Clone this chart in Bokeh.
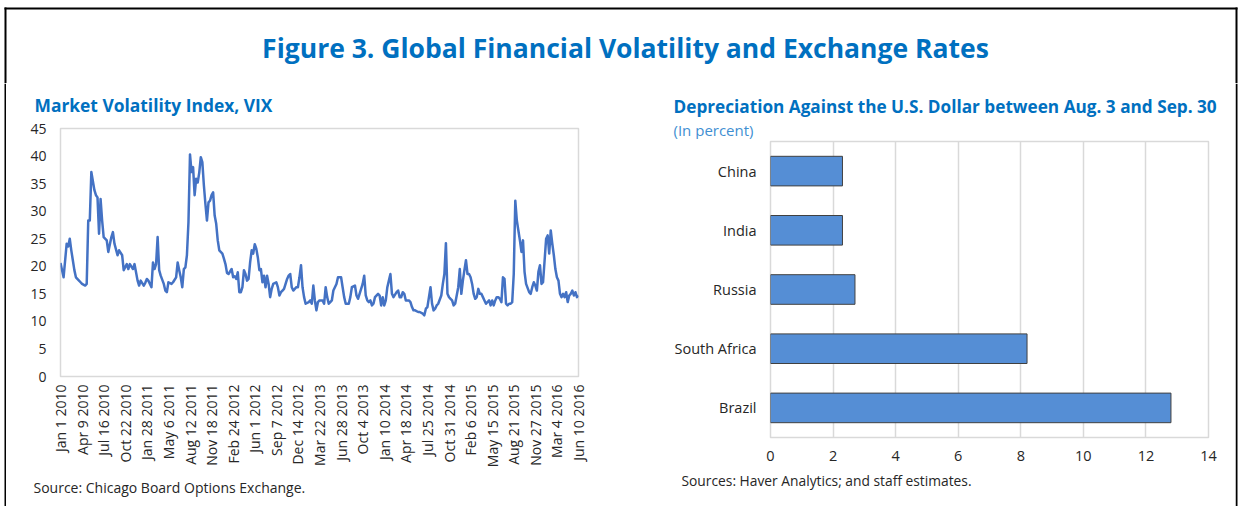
import math
import pandas as pd
from bokeh.plotting import figure
from bokeh.models import Range1d, FactorRange, FixedTicker
from bokeh.layouts import column, row
from bokeh.embed import file_html
from bokeh.resources import INLINE
from bokeh.core.properties import value

# ---------------- data ----------------
main_title = "Figure 3. Global Financial Volatility and Exchange Rates"
vix_title = "Market Volatility Index, VIX"
vix_source = "Source: Chicago Board Options Exchange."

# weeks since Jan 1 2010 (weekly observations) and VIX level
vix_weeks = [0, 2, 4, 5, 6, 7, 8, 9, 10, 12, 13, 14, 16, 17, 18, 19, 20, 22, 23, 24,
             25, 26, 27, 28, 30, 31, 33, 34, 35, 37, 38, 40, 41, 43, 44, 45, 47, 48, 50, 51,
             52, 54, 55, 56, 57, 59, 60, 61, 62, 63, 64, 65, 67, 68, 69, 70, 72, 73, 75, 76,
             77, 78, 79, 80, 81, 82, 83, 84, 85, 86, 87, 88, 89, 90, 91, 92, 93, 94, 95, 96,
             97, 98, 99, 100, 101, 102, 103, 105, 106, 107, 108, 109, 111, 112, 113, 114, 115, 116, 117, 118,
             119, 120, 121, 122, 123, 124, 125, 126, 127, 128, 129, 130, 131, 132, 133, 134, 135, 136, 137, 138,
             140, 141, 142, 143, 144, 145, 147, 148, 149, 150, 151, 153, 154, 155, 156, 157, 158, 159, 161, 162,
             163, 164, 165, 166, 167, 168, 170, 171, 172, 173, 174, 175, 176, 177, 179, 180, 182, 183, 184, 185,
             187, 188, 189, 191, 192, 193, 194, 196, 197, 198, 199, 200, 201, 202, 203, 204, 206, 207, 208, 209,
             210, 211, 212, 213, 214, 215, 216, 218, 219, 220, 221, 222, 223, 224, 226, 227, 228, 229, 230, 232,
             233, 235, 236, 237, 238, 239, 240, 241, 242, 243, 244, 245, 247, 248, 249, 250, 251, 252, 253, 254,
             255, 256, 258, 259, 260, 261, 262, 263, 264, 265, 266, 267, 268, 269, 270, 271, 272, 273, 274, 275,
             276, 278, 279, 280, 281, 282, 283, 284, 285, 286, 287, 288, 289, 290, 291, 292, 293, 294, 295, 296,
             297, 298, 299, 300, 301, 302, 304, 305, 306, 307, 308, 309, 310, 311, 312, 313, 314, 315, 316, 317,
             318, 319, 320, 321, 322, 323, 324, 325, 326, 327, 328, 329, 330, 331, 332, 333, 334, 335, 336]
vix_values = [20.6, 18.0, 24.1, 23.6, 25.0, 22.9, 21.1, 19.3, 18.0, 17.4, 17.1, 16.8, 16.5, 16.8, 28.3, 28.3, 37.1, 33.8, 32.9, 32.5,
              25.9, 32.2, 28.3, 25.3, 24.7, 22.6, 25.3, 26.2, 24.1, 22.0, 22.9, 22.0, 19.3, 20.4, 19.5, 20.4, 19.5, 20.4, 17.4, 16.5,
              17.4, 16.5, 17.0, 17.7, 17.4, 16.2, 20.7, 19.5, 20.4, 25.3, 19.3, 18.3, 16.8, 15.6, 15.3, 17.1, 16.8, 17.1, 18.0, 20.7,
              19.3, 18.0, 16.2, 19.5, 19.8, 22.0, 28.0, 40.3, 37.1, 38.0, 32.9, 35.9, 35.2, 37.0, 39.8, 38.9, 34.7, 31.3, 28.3, 31.6,
              31.9, 32.9, 33.4, 29.2, 27.7, 24.7, 22.9, 22.3, 21.4, 20.4, 18.8, 18.6, 19.5, 18.0, 18.2, 17.7, 18.9, 15.3, 15.3, 16.2,
              19.3, 18.6, 17.4, 17.7, 20.7, 22.9, 22.3, 24.0, 23.2, 21.6, 19.3, 19.5, 17.1, 18.3, 16.2, 18.3, 16.8, 14.4, 15.9, 16.8,
              17.1, 16.2, 14.7, 15.3, 15.6, 15.9, 17.7, 18.3, 18.6, 16.2, 15.6, 16.2, 16.2, 18.0, 20.2, 16.2, 14.4, 13.2, 13.5, 13.8,
              13.2, 16.5, 13.8, 12.0, 13.5, 13.8, 13.8, 13.2, 16.2, 14.4, 13.2, 13.5, 13.8, 15.6, 16.8, 18.0, 18.0, 16.2, 14.4, 13.2,
              13.2, 14.4, 16.2, 16.5, 14.7, 14.1, 15.0, 16.8, 18.3, 14.7, 13.8, 13.5, 13.8, 12.9, 13.2, 14.4, 15.0, 14.7, 12.9, 14.4,
              12.9, 13.8, 16.2, 17.4, 18.6, 15.0, 14.4, 15.3, 15.6, 14.4, 14.4, 15.3, 15.0, 13.8, 13.8, 13.5, 12.6, 12.0, 12.0, 11.7,
              11.7, 11.4, 11.1, 12.3, 12.6, 14.4, 16.2, 13.2, 12.0, 12.3, 12.9, 13.2, 14.7, 16.8, 18.6, 24.2, 15.0, 14.4, 14.1, 13.8,
              12.9, 13.2, 16.2, 19.5, 15.0, 17.4, 19.3, 21.1, 18.6, 18.6, 18.0, 16.8, 15.0, 14.1, 14.4, 15.9, 15.0, 15.0, 14.4, 13.8,
              13.2, 13.8, 12.9, 13.8, 12.9, 13.8, 14.4, 14.4, 14.1, 13.5, 18.0, 17.7, 13.2, 12.9, 13.2, 13.2, 13.5, 18.6, 31.9, 28.3,
              26.5, 24.7, 22.6, 24.7, 19.0, 16.8, 15.3, 15.0, 16.2, 17.1, 16.5, 15.6, 19.0, 20.2, 16.8, 17.1, 21.0, 25.0, 25.6, 22.3,
              26.5, 24.1, 22.0, 19.5, 18.0, 17.4, 15.0, 14.4, 15.0, 14.4, 15.3, 13.5, 14.7, 15.0, 15.6, 14.7, 15.3, 14.4, 14.7]

vix_tick_labels = ["Jan 1 2010", "Apr 9 2010", "Jul 16 2010", "Oct 22 2010", "Jan 28 2011",
                   "May 6 2011", "Aug 12 2011", "Nov 18 2011", "Feb 24 2012", "Jun 1 2012",
                   "Sep 7 2012", "Dec 14 2012", "Mar 22 2013", "Jun 28 2013", "Oct 4 2013",
                   "Jan 10 2014", "Apr 18 2014", "Jul 25 2014", "Oct 31 2014", "Feb 6 2015",
                   "May 15 2015", "Aug 21 2015", "Nov 27 2015", "Mar 4 2016", "Jun 10 2016"]
vix_y_ticks = [0, 5, 10, 15, 20, 25, 30, 35, 40, 45]

dep_title = "Depreciation Against the U.S. Dollar between Aug. 3 and Sep. 30"
dep_unit = "(In percent)"
dep_source = "Sources: Haver Analytics; and staff estimates."
countries = ["China", "India", "Russia", "South Africa", "Brazil"]
depreciation = [2.3, 2.3, 2.7, 8.2, 12.8]
dep_x_ticks = [0, 2, 4, 6, 8, 10, 12, 14]

# ---------------- style ----------------
FONT = "Open Sans"
BLUE = "#0070C0"
TXT = "#262626"


def panel(w, h):
    """A figure whose frame is the whole canvas, in pixel units, y measured from the top."""
    f = figure(width=w, height=h, x_range=Range1d(0, w), y_range=Range1d(h, 0),
               toolbar_location=None, output_backend="svg", min_border=0,
               x_axis_location=None, y_axis_location=None, title=None, frame_align=False)
    f.grid.visible = False
    f.outline_line_color = None
    return f


def put_text(f, x, y, s, size, bold=False, color=TXT, align="left"):
    f.text(x=[x], y=[y], text=[s], text_font=value(FONT),
           text_font_style="bold" if bold else "normal", text_font_size=size,
           text_color=color, text_align=align, text_baseline="middle")


def style_axes(p, size):
    for ax in (p.xaxis, p.yaxis):
        ax.axis_line_color = None
        ax.major_tick_line_color = None
        ax.minor_tick_line_color = None
        ax.major_tick_out = 0
        ax.major_tick_in = 0
        ax.major_label_text_font = FONT
        ax.major_label_text_font_size = size
        ax.major_label_text_color = TXT


# ---------------- title strip (with the frame border) ----------------
t = panel(1239, 83)
t.quad(left=[4, 4, 1235], right=[1237, 6, 1237], top=[7, 7, 7], bottom=[9, 83, 83],
       fill_color="black", line_color=None)
put_text(t, 625, 47, main_title, "26.5px", bold=True, color=BLUE, align="center")

strip_l = panel(6, 423)
strip_l.quad(left=[4], right=[6], top=[0], bottom=[423], fill_color="black", line_color=None)
strip_r = panel(4, 423)
strip_r.quad(left=[0], right=[2], top=[0], bottom=[423], fill_color="black", line_color=None)

# ---------------- left: VIX line ----------------
start = pd.Timestamp("2010-01-01")
tick_weeks = [int((pd.to_datetime(s, format="%b %d %Y") - start).days // 7)
              for s in vix_tick_labels]

sub_l = panel(614, 36)
put_text(sub_l, 28, 21, vix_title, "17.4px", bold=True, color=BLUE)

p1 = figure(width=614, height=356, x_range=Range1d(0, 336), y_range=Range1d(0, 45),
            toolbar_location=None, output_backend="svg", title=None, frame_align=False,
            min_border_left=54, min_border_right=42, min_border_top=9, min_border_bottom=99)
p1.line(vix_weeks, vix_values, line_color="#4472C4", line_width=2.5, line_join="round")
p1.grid.visible = False
p1.outline_line_color = "#d9d9d9"
p1.outline_line_width = 1.5

p1.yaxis.ticker = FixedTicker(ticks=vix_y_ticks)
p1.xaxis.ticker = FixedTicker(ticks=tick_weeks)
p1.xaxis.major_label_overrides = {w: s for w, s in zip(tick_weeks, vix_tick_labels)}
p1.xaxis.major_label_orientation = math.pi / 2
style_axes(p1, "14px")
p1.yaxis.major_label_standoff = 14
p1.xaxis.major_label_standoff = 8

src_l = panel(614, 31)
put_text(src_l, 27, 12, vix_source, "14px")

# ---------------- right: depreciation bars ----------------
sub_r = panel(615, 56)
put_text(sub_r, 53, 23, dep_title, "17.2px", bold=True, color=BLUE)
put_text(sub_r, 53, 46, dep_unit, "15px", color="#3F8FD2")

p2 = figure(width=615, height=331, x_range=Range1d(0, 14),
            y_range=FactorRange(factors=list(reversed(countries))),
            toolbar_location=None, output_backend="svg", title=None, frame_align=False,
            min_border_left=150, min_border_right=27, min_border_top=2, min_border_bottom=33)
p2.hbar(y=countries, right=depreciation, left=0, height=0.5, fill_color="#558ED5",
        line_color="#404040", line_width=1)
p2.ygrid.visible = False
p2.xgrid.ticker = FixedTicker(ticks=dep_x_ticks)
p2.xgrid.grid_line_color = "#d9d9d9"
p2.xgrid.grid_line_width = 1.5
p2.outline_line_color = "#d9d9d9"
p2.outline_line_width = 1.5
p2.xaxis.ticker = FixedTicker(ticks=dep_x_ticks)
style_axes(p2, "14.5px")
p2.xaxis.major_label_standoff = 13
p2.yaxis.major_label_standoff = 14

src_r = panel(615, 36)
put_text(src_r, 61, 10, dep_source, "13.8px")

layout = column(
    t,
    row(strip_l, column(sub_l, p1, src_l), column(sub_r, p2, src_r), strip_r),
)

with open("out.html", "w") as f:
    f.write(file_html(layout, INLINE))
